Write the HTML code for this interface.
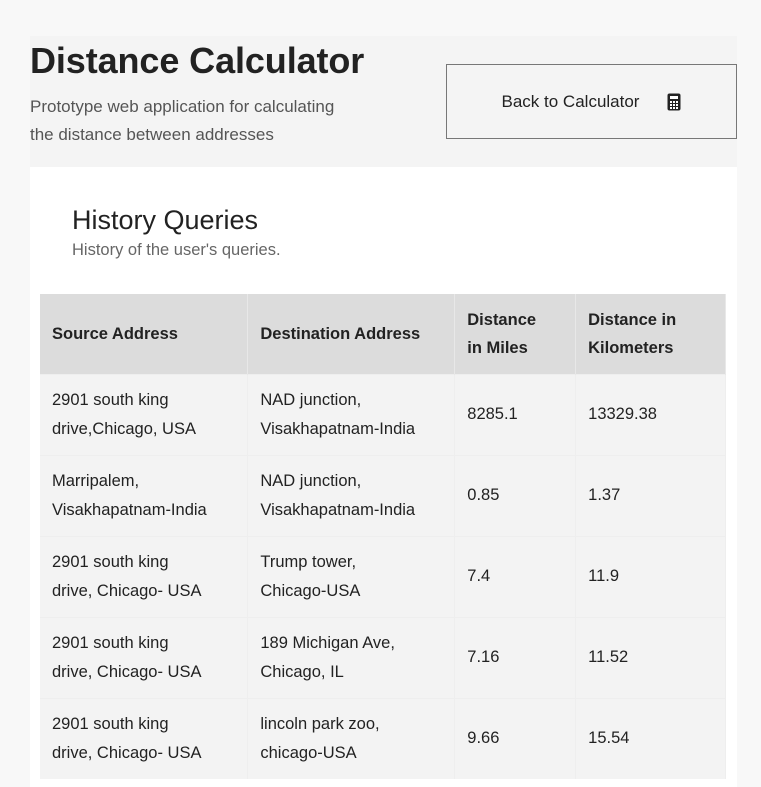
<!DOCTYPE html>
<html><head><meta charset="utf-8"><style>
*{box-sizing:border-box;margin:0;padding:0}
body{width:761px;height:782px;overflow:hidden;background:#f8f8f8;font-family:"Liberation Sans","DejaVu Sans",sans-serif;color:#222;position:relative}
.hdr{position:absolute;left:30px;top:36px;width:707px;height:131px;background:#f4f4f4}
h1{position:absolute;left:0;top:4px;font-size:36px;font-weight:bold;letter-spacing:-0.1px;color:#222}
.sub{position:absolute;left:0;top:57px;font-size:17px;line-height:28px;color:#555;white-space:nowrap}
.btn{position:absolute;left:416px;top:28px;width:291px;height:75px;border:1.5px solid #777;display:flex;align-items:center;justify-content:center;font-size:17px;color:#222;background:#f4f4f4}
.card{position:absolute;left:30px;top:167px;width:707px;height:620px;background:#fff}
h2{position:absolute;left:42px;top:38px;font-size:27px;font-weight:normal;color:#222}
.hs{position:absolute;left:42px;top:74px;font-size:16.5px;color:#666}
table{position:absolute;left:10px;top:127px;width:686px;border-collapse:collapse;font-size:16px;white-space:nowrap}
th{background:#dcdcdc;text-align:left;font-weight:bold;height:80px;padding:0 12px;line-height:28px;border-right:1px solid #e8e8e8;font-size:16.5px}
td{background:#f3f3f3;height:81px;padding:0 12px;line-height:29px;border-right:1px solid #eee;border-top:1px solid #eee;font-size:16.5px}
</style></head><body>
<div class="hdr">
<h1>Distance Calculator</h1>
<div class="sub">Prototype web application for calculating<br>the distance between addresses</div>
<div class="btn">Back to Calculator
<svg width="14" height="18" style="margin-left:28px" viewBox="0 0 14 18"><rect x="0.5" y="0.5" width="13" height="17" rx="2" fill="#222"/><rect x="3" y="3" width="8" height="3" fill="#fff"/><g fill="#fff"><rect x="3" y="8" width="2" height="2"/><rect x="6" y="8" width="2" height="2"/><rect x="9" y="8" width="2" height="2"/><rect x="3" y="11" width="2" height="2"/><rect x="6" y="11" width="2" height="2"/><rect x="9" y="11" width="2" height="2"/><rect x="3" y="14" width="2" height="2"/><rect x="6" y="14" width="2" height="2"/><rect x="9" y="14" width="2" height="2"/></g></svg>
</div>
</div>
<div class="card">
<h2>History Queries</h2>
<div class="hs">History of the user's queries.</div>
<table>
<colgroup><col style="width:208px"><col style="width:207px"><col style="width:121px"><col style="width:150px"></colgroup>
<tr><th>Source Address</th><th>Destination Address</th><th>Distance<br>in Miles</th><th>Distance in<br>Kilometers</th></tr>
<tr><td>2901 south king<br>drive,Chicago, USA</td><td>NAD junction,<br>Visakhapatnam-India</td><td>8285.1</td><td>13329.38</td></tr>
<tr><td>Marripalem,<br>Visakhapatnam-India</td><td>NAD junction,<br>Visakhapatnam-India</td><td>0.85</td><td>1.37</td></tr>
<tr><td>2901 south king<br>drive, Chicago- USA</td><td>Trump tower,<br>Chicago-USA</td><td>7.4</td><td>11.9</td></tr>
<tr><td>2901 south king<br>drive, Chicago- USA</td><td>189 Michigan Ave,<br>Chicago, IL</td><td>7.16</td><td>11.52</td></tr>
<tr><td>2901 south king<br>drive, Chicago- USA</td><td>lincoln park zoo,<br>chicago-USA</td><td>9.66</td><td>15.54</td></tr>
</table>
</div>
</body></html>
